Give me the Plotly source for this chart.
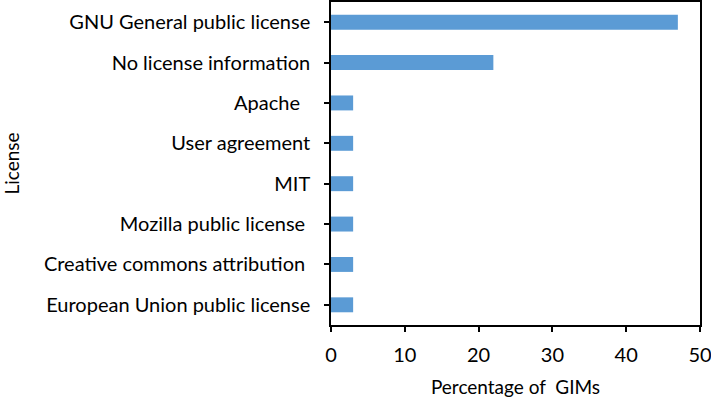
import plotly.graph_objects as go

# license categories, top to bottom as shown
licenses = [
    "GNU General public license",
    "No license information",
    "Apache\u00a0\u00a0",
    "User agreement",
    "MIT",
    "Mozilla public license\u00a0",
    "Creative commons attribution\u00a0",
    "European Union public license",
]
percent_gims = [47, 22, 3, 3, 3, 3, 3, 3]
x_ticks = [0, 10, 20, 30, 40, 50]

font = dict(family="Lato, Carlito, Calibri, sans-serif", size=20, color="#000000")
title_font = dict(family="Lato, Carlito, Calibri, sans-serif", size=19, color="#000000")

fig = go.Figure(go.Bar(
    x=percent_gims,
    y=licenses,
    orientation="h",
    width=0.37,
    marker=dict(color="#5B9BD5", line=dict(width=0)),
))

fig.update_layout(
    width=711, height=398,
    margin=dict(l=331, r=11, t=2, b=73),
    paper_bgcolor="white", plot_bgcolor="white",
    font=font,
    showlegend=False,
)

fig.update_xaxes(
    range=[0, 50], tickvals=x_ticks, automargin=False,
    showgrid=False, zeroline=False,
    showline=True, linecolor="black", linewidth=1.5, mirror=True,
    ticks="outside", ticklen=5, tickwidth=1.5, tickcolor="black",
    ticklabelstandoff=6, ticklabeloverflow="allow",
    title=dict(text="Percentage of \u00a0GIMs", font=title_font, standoff=19),
)
fig.update_yaxes(
    categoryorder="array", categoryarray=licenses[::-1], automargin=False,
    showgrid=False, zeroline=False,
    showline=True, linecolor="black", linewidth=1.5, mirror=True,
    ticks="outside", ticklen=5, tickwidth=1.5, tickcolor="black",
    ticklabelstandoff=10,
    title=dict(text="License", font=title_font, standoff=22),
)

fig.write_html("out.html", config={"displayModeBar": False},
               post_script="document.body.style.margin='0';")
